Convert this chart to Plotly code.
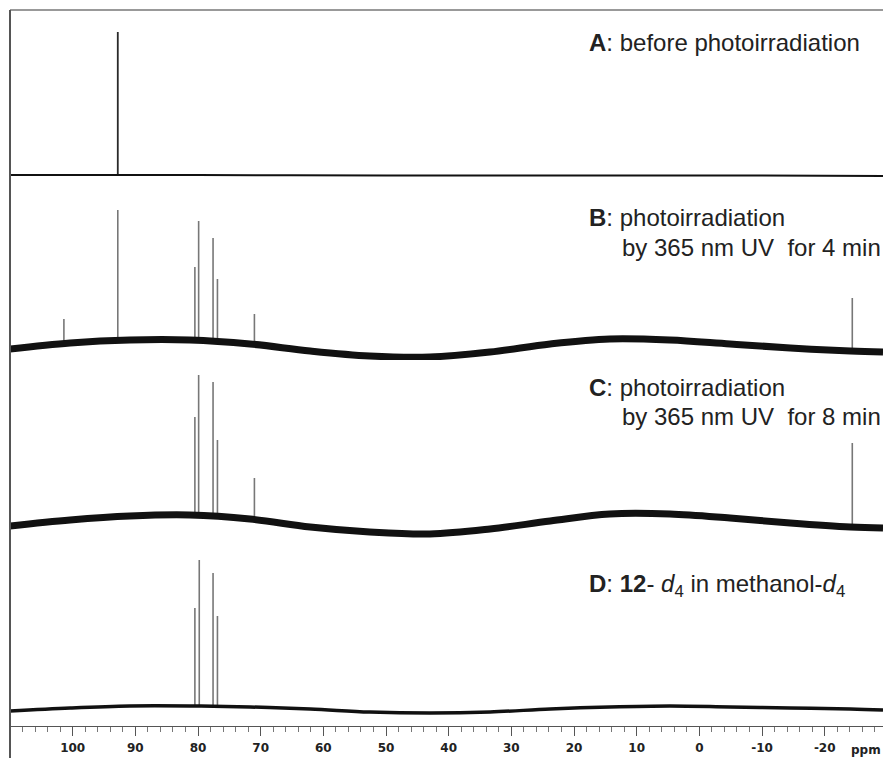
import plotly.graph_objects as go

# ---------------- data (ppm, intensity a.u.) ----------------
# Panel A: before photoirradiation
a_base_ppm = [110.0, 80.0, 50.0, 20.0, -10.0, -29.3]
a_base_int = [5.0, 5.0, 4.5, 4.5, 4.5, 4.0]
a_peak_ppm = [92.8]
a_peak_base = [5.0]
a_peak_top = [148.0]

# shared baseline sampling positions (ppm) for panels B-D
base_ppm = [110.0, 100.4, 90.9, 81.3, 71.7, 62.1, 52.6, 43.0, 33.4, 23.8, 14.3, 4.7, -4.9, -14.5, -24.1, -29.3]

# Panel B: 4 min UV
b_base_int = [11, 17, 20, 20, 16, 9, 4, 3, 8, 16, 21, 20, 16, 12, 9, 8]
b_peak_ppm = [101.4, 92.8, 80.5, 79.9, 77.6, 76.9, 71.0, -24.4]
b_peak_base = [16, 21, 20, 20, 19, 19, 16, 10]
b_peak_top = [41, 150, 93, 139, 122, 81, 46, 62]

# Panel C: 8 min UV
c_base_int = [14, 20, 24, 25, 21, 13, 8, 6, 11, 19, 26, 26, 22, 17, 13, 12]
c_peak_ppm = [80.5, 79.9, 77.6, 76.9, 71.0, -24.4]
c_peak_base = [23, 23, 21, 21, 20, 13]
c_peak_top = [123, 165, 158, 100, 62, 97]

# Panel D: 12-d4 in methanol-d4
d_base_int = [15, 18, 20, 20, 19, 17, 14, 13, 14, 17, 19, 20, 19, 18, 17, 16]
d_peak_ppm = [80.5, 79.8, 77.6, 76.9]
d_peak_base = [19, 19, 19, 19]
d_peak_top = [118, 166, 153, 110]

tick_vals = [100, 90, 80, 70, 60, 50, 40, 30, 20, 10, 0, -10, -20]
tick_text = ["100", "90", "80", "70", "60", "50", "40", "30", "20", "10", "0", "-10", "-20"]

labels = [
    ("<b>A</b>: before photoirradiation", None),
    ("<b>B</b>: photoirradiation", "by 365 nm UV  for 4 min"),
    ("<b>C</b>: photoirradiation", "by 365 nm UV  for 8 min"),
    ("<b>D</b>: <b>12</b>- <i>d</i><sub>4</sub> in methanol-<i>d</i><sub>4</sub>", None),
]

# ---------------- figure ----------------
W, H = 883, 758
ML, MT, MR, MB = 10, 10, 0, 32
PH = H - MT - MB  # plot height in px


def pfrac(py):
    return (H - MB - py) / PH


def xfrac(px):
    return (px - ML) / (W - ML - MR)


panels = [
    ("y", a_base_ppm, a_base_int, a_peak_ppm, a_peak_base, a_peak_top, 2.0, "#2a2a2a", 1.8),
    ("y2", base_ppm, b_base_int, b_peak_ppm, b_peak_base, b_peak_top, 7.0, "#777777", 1.6),
    ("y3", base_ppm, c_base_int, c_peak_ppm, c_peak_base, c_peak_top, 7.0, "#777777", 1.6),
    ("y4", base_ppm, d_base_int, d_peak_ppm, d_peak_base, d_peak_top, 3.5, "#777777", 1.6),
]

fig = go.Figure()
for yax, bp, bi, pp, pb, pt, bw, pc, pw in panels:
    px_, py_ = [], []
    for p, b, t in zip(pp, pb, pt):
        px_ += [p, p, None]
        py_ += [b, t, None]
    fig.add_trace(go.Scatter(x=px_, y=py_, mode="lines", xaxis="x", yaxis=yax,
                             line=dict(color=pc, width=pw), hoverinfo="skip", showlegend=False))
    fig.add_trace(go.Scatter(x=bp, y=bi, mode="lines", xaxis="x", yaxis=yax,
                             line=dict(color="#111111", width=bw, shape="spline", smoothing=1.0),
                             hoverinfo="skip", showlegend=False))

# panel pixel bands
bands = {"y": (10, 180), "y2": (180, 360), "y3": (360, 540), "y4": (540, 726)}
ranges = {"y": [0, 170], "y2": [0, 180], "y3": [0, 180], "y4": [0, 186]}
for key, (top, bot) in bands.items():
    name = "yaxis" if key == "y" else "yaxis" + key[1:]
    fig.layout[name] = dict(domain=[pfrac(bot), pfrac(top)], range=ranges[key],
                            visible=False, fixedrange=True)

fig.update_layout(
    width=W, height=H,
    margin=dict(l=ML, r=MR, t=MT, b=MB),
    paper_bgcolor="white", plot_bgcolor="white",
    xaxis=dict(
        anchor="y4", range=[110.0, -29.3], showgrid=False, zeroline=False,
        showline=True, linecolor="#555555", linewidth=1,
        ticks="outside", ticklen=9, tickwidth=1, tickcolor="#555555",
        ticklabelstandoff=2,
        tickvals=tick_vals, ticktext=tick_text,
        tickfont=dict(family="DejaVu Sans", size=12, color="#222222", weight="bold"),
        minor=dict(dtick=2, tick0=0, ticks="outside", ticklen=5, tickcolor="#777777", tickwidth=1),
    ),
)

# frame lines (top and left)
fig.add_shape(type="line", xref="paper", yref="paper", x0=0, x1=1, y0=1, y1=1,
              line=dict(color="#777777", width=1.5))
fig.add_shape(type="line", xref="paper", yref="paper", x0=0, x1=0, y0=1, y1=pfrac(H),
              line=dict(color="#555555", width=2))

# ppm unit label
fig.add_annotation(x=-26.6, xref="x", y=pfrac(750), yref="paper", text="ppm",
                   showarrow=False, yanchor="middle",
                   font=dict(family="DejaVu Sans", size=12, color="#222222", weight="bold"))

# panel labels
label_y = [(43, None), (217, 247), (387, 417), (585, None)]
for (t1, t2), (y1, y2) in zip(labels, label_y):
    fig.add_annotation(x=xfrac(587), xref="paper", y=pfrac(y1), yref="paper", text=t1,
                       showarrow=False, xanchor="left", yanchor="middle",
                       font=dict(family="Liberation Sans", size=24, color="#222222"))
    if t2:
        fig.add_annotation(x=xfrac(620), xref="paper", y=pfrac(y2), yref="paper", text=t2,
                           showarrow=False, xanchor="left", yanchor="middle",
                           font=dict(family="Liberation Sans", size=24, color="#222222"))

fig.write_html("out.html")
